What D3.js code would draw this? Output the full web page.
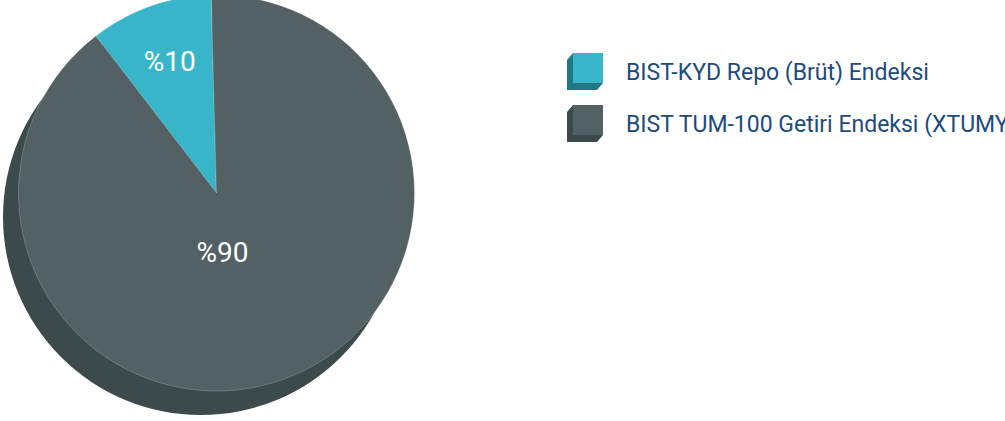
<!DOCTYPE html>
<html lang="tr">
<head>
    <meta charset="UTF-8">
    <title>Fon Dağılımı</title>
    <script src="https://d3js.org/d3.v7.min.js"></script>
    <style>
        body {
            margin: 0;
            background: #fff;
            font-family: Roboto, Arial, sans-serif;
        }
        .label {
            fill: #fff;
            font-size: 28px;
            text-anchor: middle;
        }
        .legend text {
            fill: #1d4b7c;
            font-size: 23px;
        }
    </style>
</head>
<body>
    <div id="chart"></div>
    <script>
        // data
        var categories = ["BIST-KYD Repo (Brüt) Endeksi", "BIST TUM-100 Getiri Endeksi (XTUMY)"];
        var values = [10, 90];
        var labels = ["%10", "%90"];
        var colors = ["#39b5c9", "#536164"];
        var sideColors = ["#217884", "#3c4a4b"];

        var w = 1005, h = 421;
        var cx = 216.5, cy = 193, r = 198;

        var svg = d3.select("#chart").append("svg")
            .attr("width", w)
            .attr("height", h);

        // shadow / depth
        svg.append("circle")
            .attr("cx", cx - 15.5)
            .attr("cy", cy + 24)
            .attr("r", r)
            .attr("fill", sideColors[1]);

        var pie = d3.pie()
            .sort(null)
            .startAngle(-0.655)
            .endAngle(2 * Math.PI - 0.655);

        var arc = d3.arc().innerRadius(0).outerRadius(r);
        var labelArc = d3.arc().innerRadius(0).outerRadius(r * 1.41);

        var g = svg.append("g")
            .attr("transform", "translate(" + cx + "," + cy + ")");

        var arcs = pie(values);

        g.selectAll("path")
            .data(arcs)
            .enter().append("path")
            .attr("d", arc)
            .attr("fill", function(d, i) { return colors[i]; })
            .attr("stroke", "rgba(255,255,255,0.35)")
            .attr("stroke-width", 0.6);

        // labels (big slice label sits just below the centre)
        g.selectAll(".label")
            .data(arcs)
            .enter().append("text")
            .attr("class", "label")
            .attr("x", function(d, i) { return i == 0 ? labelArc.centroid(d)[0] : 6; })
            .attr("y", function(d, i) { return i == 0 ? labelArc.centroid(d)[1] : 59; })
            .attr("dy", "0.35em")
            .text(function(d, i) { return labels[i]; });

        // legend
        var legend = svg.append("g")
            .attr("class", "legend")
            .attr("transform", "translate(573,53)");

        var item = legend.selectAll("g")
            .data(categories)
            .enter().append("g")
            .attr("transform", function(d, i) { return "translate(0," + (i * 52) + ")"; });

        var s = 30, dx = -6, dy = 7;
        item.append("polygon")
            .attr("points", [[0, 0], [dx, dy], [dx, s + dy], [s + dx, s + dy], [s, s], [0, s]].join(" "))
            .attr("fill", function(d, i) { return sideColors[i]; });

        item.append("rect")
            .attr("width", s)
            .attr("height", s)
            .attr("fill", function(d, i) { return colors[i]; });

        item.append("text")
            .attr("x", 53)
            .attr("y", s / 2 + 4)
            .attr("dy", "0.35em")
            .text(function(d) { return d; });
    </script>
</body>
</html>
